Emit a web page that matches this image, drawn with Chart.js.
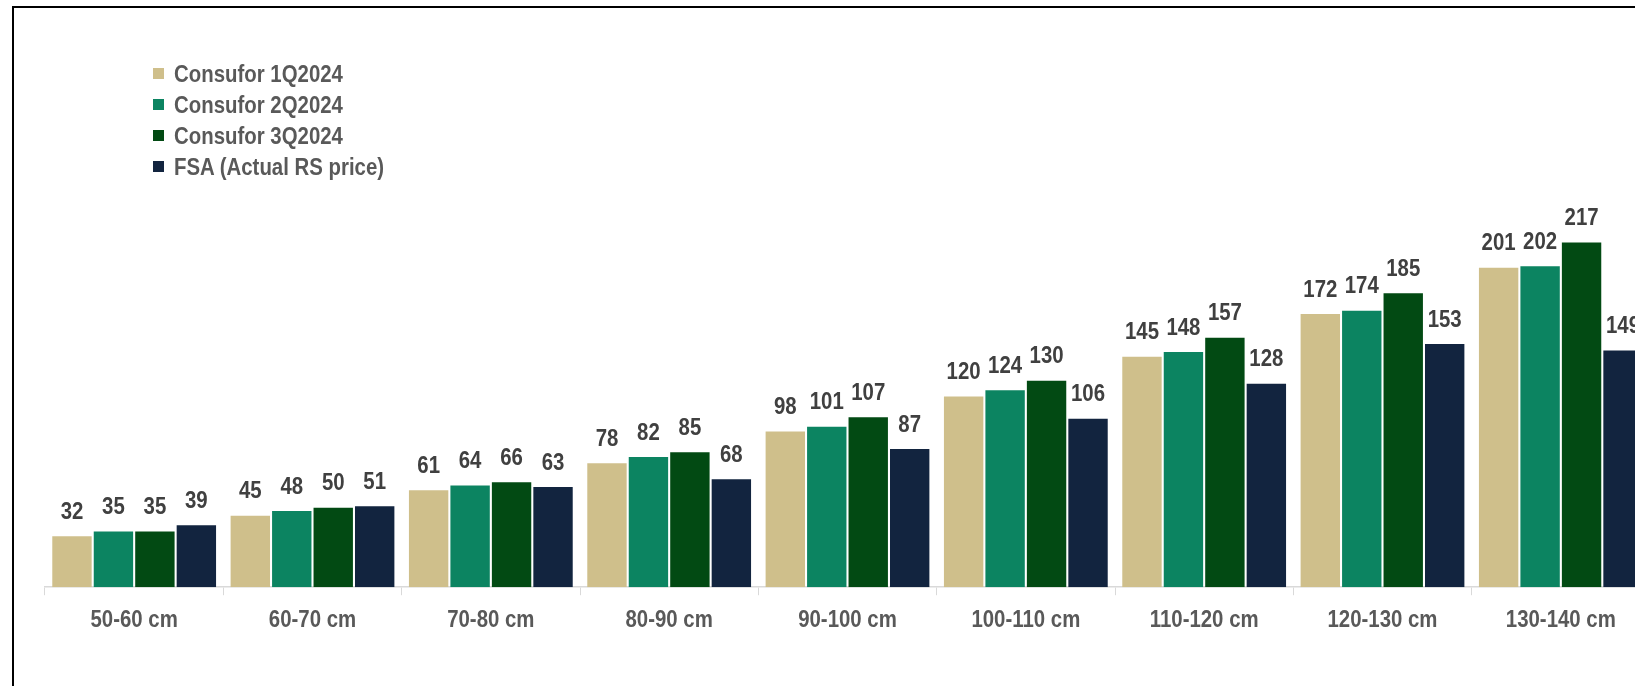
<!DOCTYPE html>
<html>
<head>
<meta charset="utf-8">
<script src="https://cdn.jsdelivr.net/npm/chart.js@4"></script>
<style>
  html, body { margin: 0; padding: 0; background: #fff; overflow: hidden; width: 1635px; height: 686px; }
  #frame { position: absolute; left: 12px; top: 6px; width: 1700px; height: 720px; border: 2px solid #000; box-sizing: border-box; }
  #wrap { position: absolute; left: 0; top: 0; width: 1672px; height: 686px; }
  #legend { position: absolute; left: 153px; top: 58px; font-family: "Liberation Sans", Arial, sans-serif; font-weight: bold; font-size: 24px; color: #595959; }
  .item { display: flex; align-items: center; height: 31px; white-space: nowrap; }
  .box { width: 11px; height: 11px; margin-right: 10px; flex: none; }
  .txt { display: inline-block; transform: scaleX(0.85); transform-origin: left center; }
</style>
</head>
<body>
<div id="frame"></div>
<div id="wrap"><canvas id="chart"></canvas></div>
<div id="legend"></div>
<script>
const categories = ['50-60 cm', '60-70 cm', '70-80 cm', '80-90 cm', '90-100 cm', '100-110 cm', '110-120 cm', '120-130 cm', '130-140 cm'];
const seriesNames = ['Consufor 1Q2024', 'Consufor 2Q2024', 'Consufor 3Q2024', 'FSA (Actual RS price)'];
const seriesColors = ['#CFBF8B', '#0C8461', '#024A13', '#12243F'];
const consufor1Q = [32, 45, 61, 78, 98, 120, 145, 172, 201];
const consufor2Q = [35, 48, 64, 82, 101, 124, 148, 174, 202];
const consufor3Q = [35, 50, 66, 85, 107, 130, 157, 185, 217];
const fsaActual = [39, 51, 63, 68, 87, 106, 128, 153, 149];

const seriesValues = [consufor1Q, consufor2Q, consufor3Q, fsaActual];
const FONT = 'bold 24px "Liberation Sans", Arial, sans-serif';
const SQUEEZE = 0.85; // narrow-font look

const legendEl = document.getElementById('legend');
seriesNames.forEach((name, i) => {
    const row = document.createElement('div');
    row.className = 'item';
    row.innerHTML = `<span class="box" style="background:${seriesColors[i]}"></span><span class="txt">${name}</span>`;
    legendEl.appendChild(row);
});

function narrowText(ctx, text, x, y) {
    ctx.save();
    ctx.translate(x, y);
    ctx.scale(SQUEEZE, 1);
    ctx.fillText(text, 0, 0);
    ctx.restore();
}

// value labels + category labels drawn with condensed text
const textPlugin = {
    id: 'textPlugin',
    afterDatasetsDraw(chart) {
        const ctx = chart.ctx;
        ctx.save();
        ctx.font = FONT;
        ctx.textAlign = 'center';
        ctx.fillStyle = '#404040';
        ctx.textBaseline = 'bottom';
        chart.data.datasets.forEach((ds, i) => {
            chart.getDatasetMeta(i).data.forEach((bar, j) => {
                narrowText(ctx, ds.data[j], bar.x, bar.y - 12);
            });
        });
        const xs = chart.scales.x;
        ctx.fillStyle = '#595959';
        ctx.textBaseline = 'middle';
        chart.data.labels.forEach((lab, i) => {
            narrowText(ctx, lab, xs.getPixelForValue(i), xs.top + 33);
        });
        ctx.restore();
    }
};

new Chart(document.getElementById('chart'), {
    type: 'bar',
    data: {
        labels: categories,
        datasets: seriesNames.map((name, i) => ({
            label: name,
            data: seriesValues[i],
            backgroundColor: seriesColors[i],
            borderWidth: 0,
            categoryPercentage: 0.93,
            barPercentage: 0.95
        }))
    },
    options: {
        responsive: true,
        maintainAspectRatio: false,
        animation: false,
        layout: { padding: { left: 45, right: 22, top: 190, bottom: 38 } },
        plugins: {
            legend: { display: false },
            tooltip: { enabled: false }
        },
        scales: {
            x: {
                grid: { display: true, drawOnChartArea: false, drawTicks: true, tickLength: 8, color: '#D9D9D9', offset: true },
                border: { display: true, color: '#D9D9D9', width: 1.5 },
                ticks: {
                    color: 'rgba(0,0,0,0)',
                    padding: 12,
                    font: { family: '"Liberation Sans", Arial, sans-serif', size: 24, weight: 'bold' }
                }
            },
            y: { display: false, min: 0, max: 250 }
        }
    },
    plugins: [textPlugin]
});
</script>
</body>
</html>
